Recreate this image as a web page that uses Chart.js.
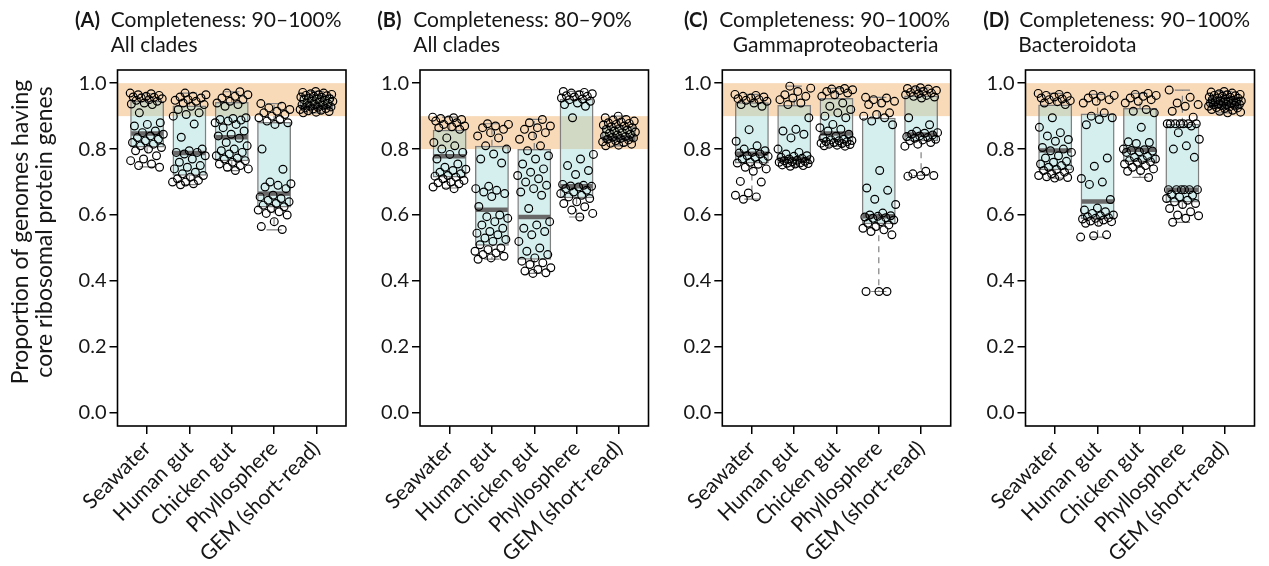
<!DOCTYPE html>
<html>
<head>
<meta charset="utf-8">
<script src="https://cdn.jsdelivr.net/npm/chart.js@4.4.0/dist/chart.umd.min.js"></script>
<style>
  body { margin: 0; background: #fff; width: 1269px; height: 566px; position: relative; overflow: hidden; }
  canvas { position: absolute; top: 0; }
</style>
</head>
<body>
<canvas id="panelA"></canvas>
<canvas id="panelB"></canvas>
<canvas id="panelC"></canvas>
<canvas id="panelD"></canvas>
<script>
// categories (x axis)
var categories = ['Seawater', 'Human gut', 'Chicken gut', 'Phyllosphere', 'GEM (short-read)']
var yTicks = [0, 0.2, 0.4, 0.6, 0.8, 1.0]
var yTitle = ['Proportion of genomes having', 'core ribosomal protein genes']

var panelTags = ['(A)', '(B)', '(C)', '(D)']
var panelLine1 = ['Completeness: 90\u2013100%', 'Completeness: 80\u201390%', 'Completeness: 90\u2013100%', 'Completeness: 90\u2013100%']
var panelLine2 = ['All clades', 'All clades', 'Gammaproteobacteria', 'Bacteroidota']

// highlighted completeness band
var bandLow = [0.9, 0.8, 0.9, 0.9]
var bandHigh = [1.0, 0.9, 1.0, 1.0]

// box stats, one value per category
var q1A = [0.805, 0.719, 0.763, 0.623, 0.920]
var medA = [0.847, 0.788, 0.836, 0.665, 0.927]
var q3A = [0.947, 0.932, 0.943, 0.882, 0.966]
var loA = [0.746, 0.692, 0.735, 0.555, 0.910]
var hiA = [0.968, 0.970, 0.974, 0.938, 0.975]

var q1B = [0.714, 0.507, 0.464, 0.651, 0.822]
var medB = [0.778, 0.616, 0.594, 0.687, 0.834]
var q3B = [0.859, 0.810, 0.800, 0.953, 0.869]
var loB = [0.682, 0.466, 0.423, 0.594, 0.810]
var hiB = [0.897, 0.877, 0.890, 0.975, 0.900]

var q1C = [0.756, 0.756, 0.822, 0.572, 0.824]
var medC = [0.786, 0.770, 0.847, 0.596, 0.844]
var q3C = [0.942, 0.934, 0.955, 0.895, 0.963]
var loC = [0.648, 0.748, 0.809, 0.368, 0.720]
var hiC = [0.966, 0.991, 0.984, 0.957, 0.986]

var q1D = [0.736, 0.588, 0.761, 0.638, 0.923]
var medD = [0.796, 0.641, 0.798, 0.677, 0.935]
var q3D = [0.935, 0.908, 0.925, 0.877, 0.958]
var loD = [0.712, 0.533, 0.714, 0.578, 0.910]
var hiD = [0.969, 0.966, 0.969, 0.979, 0.975]

// individual genomes, one list per category
var pointsA = [
  [.97,.968,.965,.963,.96,.958,.957,.955,.953,.95,.948,.945,.94,.937,.935,.91,.88,.875,.87,.855,.85,.845,.84,.835,.83,.825,.82,.815,.81,.805,.80,.795,.78,.77,.765,.755,.75,.745],
  [.97,.965,.96,.958,.955,.95,.948,.945,.94,.935,.93,.92,.91,.905,.9,.876,.836,.80,.795,.79,.79,.785,.78,.77,.76,.75,.745,.74,.73,.725,.72,.715,.71,.705,.70,.70,.695,.692],
  [.974,.97,.965,.96,.955,.95,.945,.94,.935,.93,.895,.893,.89,.888,.885,.88,.875,.865,.855,.845,.84,.833,.82,.81,.80,.795,.79,.785,.78,.773,.77,.765,.76,.755,.75,.745,.74,.735],
  [.938,.93,.925,.92,.915,.91,.905,.9,.895,.89,.885,.88,.875,.80,.739,.70,.695,.69,.685,.68,.66,.655,.65,.645,.64,.635,.63,.625,.62,.615,.61,.605,.60,.58,.565,.556],
  [.975,.972,.97,.968,.966,.965,.963,.962,.96,.958,.957,.955,.953,.952,.95,.948,.946,.945,.943,.94,.938,.936,.935,.933,.93,.928,.927,.925,.923,.922,.92,.918,.916,.914,.912,.91]
]
var pointsB = [
  [.897,.895,.893,.89,.888,.885,.88,.875,.87,.868,.865,.86,.834,.82,.81,.80,.79,.784,.77,.755,.745,.739,.735,.73,.725,.72,.718,.715,.71,.705,.70,.698,.695,.69,.685,.68],
  [.877,.875,.87,.865,.86,.85,.84,.834,.81,.80,.785,.77,.758,.687,.68,.675,.67,.665,.656,.626,.60,.595,.59,.58,.57,.56,.55,.545,.54,.53,.526,.52,.51,.50,.495,.49,.485,.48,.475,.47,.466],
  [.89,.88,.87,.865,.86,.85,.84,.83,.81,.795,.78,.77,.755,.74,.73,.72,.71,.70,.69,.68,.67,.66,.62,.58,.57,.56,.55,.54,.52,.50,.49,.48,.47,.46,.455,.45,.44,.435,.43,.425,.423],
  [.975,.972,.97,.968,.965,.962,.96,.958,.955,.952,.95,.945,.94,.935,.93,.895,.784,.77,.75,.735,.723,.693,.69,.688,.687,.685,.68,.675,.67,.665,.66,.655,.65,.64,.635,.625,.615,.605,.594],
  [.90,.895,.89,.888,.885,.882,.88,.878,.875,.873,.87,.868,.865,.862,.86,.858,.855,.852,.85,.848,.845,.843,.84,.838,.836,.834,.832,.83,.828,.825,.822,.82,.818,.815,.812,.81]
]
var pointsC = [
  [.966,.963,.96,.958,.955,.953,.95,.948,.945,.94,.935,.93,.859,.824,.81,.80,.795,.79,.788,.785,.78,.778,.775,.77,.765,.76,.758,.754,.745,.74,.733,.702,.70,.667,.66,.655,.648],
  [.991,.985,.975,.965,.96,.955,.95,.94,.935,.895,.86,.855,.845,.834,.80,.79,.785,.78,.778,.775,.772,.77,.768,.766,.765,.763,.762,.76,.758,.757,.756,.755,.752,.75,.748],
  [.984,.982,.98,.978,.975,.97,.965,.96,.94,.93,.92,.91,.9,.895,.875,.865,.86,.855,.845,.839,.834,.83,.828,.826,.825,.823,.822,.82,.818,.817,.815,.814,.812,.81,.809],
  [.957,.955,.95,.945,.94,.935,.91,.905,.9,.895,.885,.874,.735,.682,.675,.648,.632,.606,.60,.598,.596,.594,.592,.59,.585,.58,.575,.57,.565,.56,.555,.55,.54,.368,.368,.368],
  [.986,.984,.982,.98,.978,.975,.972,.97,.968,.965,.963,.96,.958,.955,.895,.874,.854,.85,.848,.845,.843,.84,.838,.835,.833,.83,.828,.825,.82,.815,.809,.733,.725,.72,.72,.718]
]
var pointsD = [
  [.969,.966,.963,.96,.958,.955,.952,.95,.947,.944,.94,.935,.895,.866,.85,.84,.829,.824,.805,.80,.795,.79,.78,.773,.763,.76,.755,.75,.745,.74,.738,.735,.73,.725,.72,.718,.716,.714,.712],
  [.966,.963,.96,.955,.95,.945,.94,.91,.9,.895,.89,.874,.773,.748,.711,.70,.693,.647,.621,.615,.61,.605,.60,.598,.595,.592,.59,.588,.585,.582,.58,.578,.575,.54,.537,.533],
  [.969,.966,.963,.96,.955,.95,.945,.94,.92,.915,.91,.866,.822,.82,.817,.80,.798,.796,.794,.792,.79,.778,.775,.77,.768,.765,.762,.76,.755,.75,.745,.74,.735,.733,.714],
  [.979,.957,.94,.935,.93,.915,.897,.877,.877,.877,.877,.877,.877,.877,.87,.85,.83,.81,.80,.775,.677,.677,.677,.677,.677,.677,.663,.66,.655,.65,.645,.64,.635,.632,.62,.61,.60,.598,.59,.578],
  [.975,.973,.97,.968,.966,.965,.963,.962,.96,.958,.957,.955,.954,.952,.95,.948,.947,.946,.945,.944,.943,.942,.94,.938,.937,.936,.935,.934,.933,.932,.93,.928,.926,.925,.923,.92,.918,.915,.912,.91]
]

var panels = [
  { id: 'panelA', q1: q1A, med: medA, q3: q3A, lo: loA, hi: hiA, pts: pointsA },
  { id: 'panelB', q1: q1B, med: medB, q3: q3B, lo: loB, hi: hiB, pts: pointsB },
  { id: 'panelC', q1: q1C, med: medC, q3: q3C, lo: loC, hi: hiC, pts: pointsC },
  { id: 'panelD', q1: q1D, med: medD, q3: q3D, lo: loD, hi: hiD, pts: pointsD }
]

// page layout of each panel (px)
var boxes = [
  { left: 0,   width: 360, yw: 117.5, padR: 14,   tagX: 75,    textX: 110.7, line2X: 110.7 },
  { left: 360, width: 302, yw: 60,    padR: 13.5, tagX: 377.3, textX: 413.3, line2X: 413.3 },
  { left: 662, width: 303, yw: 60.3,  padR: 14.3, tagX: 684,   textX: 719.3, line2X: 732.7 },
  { left: 965, width: 304, yw: 60.5,  padR: 14.5, tagX: 983.3, textX: 1019.3, line2X: 1018.3 }
]

var FONT = 'Lato, "Open Sans", sans-serif'
var TXT = '#161616'

function jitter(i, k) {
  return (((i * 0.6180339 + k * 0.37) % 1) - 0.5) * 0.8
}

function decor(p) {
  var P = panels[p], B = boxes[p]
  return {
    id: 'decor' + p,
    beforeDatasetsDraw: function(chart) {
      var ctx = chart.ctx, a = chart.chartArea, y = chart.scales.y
      ctx.save()
      ctx.fillStyle = 'rgb(248,218,184)'
      var t = y.getPixelForValue(bandHigh[p]), b = y.getPixelForValue(bandLow[p])
      ctx.fillRect(a.left, t, a.right - a.left, b - t)
      ctx.restore()
    },
    afterDatasetDraw: function(chart, args) {
      if (args.index !== 1) return
      var ctx = chart.ctx, x = chart.scales.x, y = chart.scales.y
      var meta = chart.getDatasetMeta(1)
      ctx.save()
      for (var k = 0; k < categories.length; k++) {
        var bar = meta.data[k]
        var cx = x.getPixelForValue(k + 1)
        var capHalf = (x.getPixelForValue(1.18) - x.getPixelForValue(1))
        ctx.strokeStyle = '#808080'
        ctx.lineWidth = 1.2
        ctx.setLineDash([6, 5])
        ctx.beginPath()
        ctx.moveTo(cx, y.getPixelForValue(P.q3[k])); ctx.lineTo(cx, y.getPixelForValue(P.hi[k]))
        ctx.moveTo(cx, y.getPixelForValue(P.q1[k])); ctx.lineTo(cx, y.getPixelForValue(P.lo[k]))
        ctx.stroke()
        ctx.setLineDash([])
        ctx.beginPath()
        ctx.moveTo(cx - capHalf, y.getPixelForValue(P.hi[k])); ctx.lineTo(cx + capHalf, y.getPixelForValue(P.hi[k]))
        ctx.moveTo(cx - capHalf, y.getPixelForValue(P.lo[k])); ctx.lineTo(cx + capHalf, y.getPixelForValue(P.lo[k]))
        ctx.stroke()
        // median
        ctx.strokeStyle = '#686868'
        ctx.lineWidth = 4.5
        var my = y.getPixelForValue(P.med[k])
        ctx.beginPath()
        ctx.moveTo(bar.x - bar.width / 2 + 1, my); ctx.lineTo(bar.x + bar.width / 2 - 1, my)
        ctx.stroke()
      }
      ctx.restore()
    },
    afterDatasetsDraw: function(chart) {
      var ctx = chart.ctx, a = chart.chartArea
      ctx.save()
      ctx.strokeStyle = '#000'
      ctx.lineWidth = 1.6
      ctx.strokeRect(a.left, a.top, a.right - a.left, a.bottom - a.top)
      ctx.restore()
    },
    afterDraw: function(chart) {
      var ctx = chart.ctx
      ctx.save()
      ctx.fillStyle = TXT
      ctx.textBaseline = 'alphabetic'
      ctx.textAlign = 'left'
      ctx.font = 'bold 20px ' + FONT
      ctx.fillText(panelTags[p], B.tagX - B.left, 27.3)
      ctx.font = '21px ' + FONT
      ctx.fillText(panelLine1[p], B.textX - B.left, 27.3)
      ctx.fillText(panelLine2[p], B.line2X - B.left, 51.7)
      if (p === 0) {
        ctx.font = '23px ' + FONT
        ctx.textAlign = 'center'
        ctx.textBaseline = 'middle'
        ctx.translate(20.7, 232)
        ctx.rotate(-Math.PI / 2)
        ctx.fillText(yTitle[0], 0, 0)
        ctx.fillText(yTitle[1], 0, 23.6)
      }
      ctx.restore()
    }
  }
}

panels.forEach(function(P, p) {
  var B = boxes[p]
  var canvas = document.getElementById(P.id)
  canvas.width = B.width
  canvas.height = 566
  canvas.style.left = B.left + 'px'
  canvas.style.width = B.width + 'px'
  canvas.style.height = '566px'

  var scatterData = []
  P.pts.forEach(function(list, k) {
    list.forEach(function(v, i) {
      scatterData.push({ x: k + 1 + jitter(i, k), y: v })
    })
  })
  var boxData = categories.map(function(c, k) {
    return { x: k + 1, y: [P.q1[k], P.q3[k]] }
  })

  new Chart(canvas.getContext('2d'), {
    type: 'scatter',
    data: {
      datasets: [
        {
          type: 'scatter',
          data: scatterData,
          order: 0,
          pointStyle: 'circle',
          pointRadius: 3.9,
          pointBorderWidth: 1.2,
          pointBorderColor: '#000',
          pointBackgroundColor: 'rgba(0,0,0,0)'
        },
        {
          type: 'bar',
          data: boxData,
          order: 1,
          grouped: false,
          categoryPercentage: 1,
          barPercentage: 0.8,
          backgroundColor: 'rgba(150,215,215,0.4)',
          borderColor: '#808080',
          borderWidth: 1.5,
          borderSkipped: false
        }
      ]
    },
    options: {
      responsive: false,
      animation: false,
      events: [],
      layout: { padding: { left: 0, right: B.padR, top: 70, bottom: 0 } },
      plugins: { legend: { display: false }, tooltip: { enabled: false }, title: { display: false } },
      scales: {
        x: {
          type: 'linear',
          offset: false,
          min: 0.3,
          max: 5.7,
          afterBuildTicks: function(s) { s.ticks = categories.map(function(c, k) { return { value: k + 1 } }) },
          afterFit: function(s) { s.height = 140 },
          border: { display: false },
          grid: { offset: false, drawOnChartArea: false, drawTicks: true, tickLength: 8, color: '#000', lineWidth: 1.5 },
          ticks: {
            autoSkip: false,
            minRotation: 45,
            maxRotation: 45,
            padding: 2,
            color: TXT,
            font: { family: FONT, size: 21 },
            callback: function(v) { return categories[v - 1] }
          }
        },
        y: {
          min: -0.04,
          max: 1.04,
          afterBuildTicks: function(s) { s.ticks = yTicks.map(function(v) { return { value: v } }) },
          afterFit: function(s) { s.width = B.yw },
          border: { display: false },
          grid: { drawOnChartArea: false, drawTicks: true, tickLength: 8, color: '#000', lineWidth: 1.5 },
          ticks: {
            padding: 3,
            color: TXT,
            font: { family: FONT, size: 20 },
            callback: function(v) { return v.toFixed(1) }
          }
        }
      }
    },
    plugins: [decor(p)]
  })
})
</script>
</body>
</html>
